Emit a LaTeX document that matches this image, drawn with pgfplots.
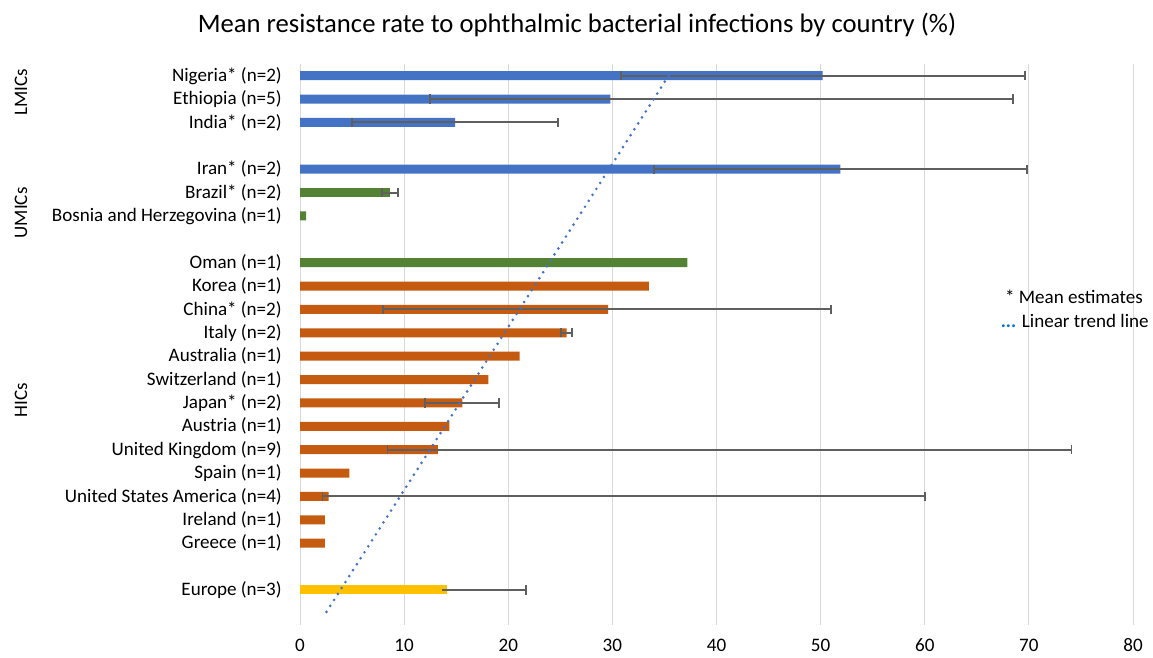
\documentclass[border=0pt]{standalone}
\usepackage{fontspec}
\setmainfont{Carlito}
\usepackage{pgfplots}
\pgfplotsset{compat=1.18}
\definecolor{cblue}{HTML}{4472C4}
\definecolor{cgreen}{HTML}{548235}
\definecolor{corange}{HTML}{C55A11}
\definecolor{cyellow}{HTML}{FFC000}
\definecolor{errgray}{HTML}{5F5F5F}
\definecolor{gridgray}{HTML}{D9D9D9}
\definecolor{legblue}{HTML}{0070C0}
\newcommand{\lbl}{\fontsize{14.3}{16}\selectfont}
\pgfplotsset{
  eb/.style={line width=1.5pt, error bars/.cd, x dir=both, x explicit,
    error bar style={draw=errgray, line width=1.5pt, solid},
    error mark options={draw=errgray, line width=1.3pt, mark size=3.5pt, rotate=90}},
}
\begin{document}
\begin{tikzpicture}
\useasboundingbox (0,0) rectangle (864.75pt,492.75pt);
\begin{axis}[
  at={(225pt,24pt)}, anchor=south west,
  scale only axis, width=624.75pt, height=420.75pt,
  xmin=0, xmax=80, ymin=-0.5, ymax=23.5, y dir=reverse,
  xtick={0,10,20,30,40,50,60,70,80},
  ytick={0,1,2,4,5,6,8,9,10,11,12,13,14,15,16,17,18,19,20,22},
  yticklabels={Nigeria* (n=2),Ethiopia (n=5),India* (n=2),Iran* (n=2),Brazil* (n=2),Bosnia and Herzegovina (n=1),Oman (n=1),Korea (n=1),China* (n=2),Italy (n=2),Australia (n=1),Switzerland (n=1),Japan* (n=2),Austria (n=1),United Kingdom (n=9),Spain (n=1),United States America (n=4),Ireland (n=1),Greece (n=1),Europe (n=3)},
  xmajorgrids, grid style={draw=gridgray, line width=0.75pt},
  axis line style={draw=none}, major tick length=0pt, tick style={draw=none},
  tick label style={font=\lbl, text=black},
  yticklabel style={anchor=east, inner sep=0pt, xshift=-13.5pt},
  xticklabel style={anchor=base, inner sep=0pt, yshift=-20pt},
  /pgf/number format/assume math mode=true,
  bar width=0.385, clip=false,
]
% bars without error bars
\addplot[xbar, bar shift=0pt, fill=cgreen, draw=none] coordinates {(0.6,6) (37.2,8)};
\addplot[xbar, bar shift=0pt, fill=corange, draw=none] coordinates {(33.5,9) (21.1,12) (18.1,13) (14.35,15) (4.75,17) (2.4,19) (2.4,20)};
% bars with error bars
\addplot[xbar, bar shift=0pt, fill=cblue, draw=none, eb] coordinates {
  (50.2,0) += (19.4,0) -= (19.4,0)
  (29.8,1) += (38.7,0) -= (17.3,0)
  (14.9,2) += (9.9,0) -= (9.9,0)
  (51.9,4) += (17.9,0) -= (17.9,0)};
\addplot[xbar, bar shift=0pt, fill=cgreen, draw=none, eb] coordinates {
  (8.65,5) += (0.75,0) -= (0.75,0)};
\addplot[xbar, bar shift=0pt, fill=corange, draw=none, eb] coordinates {
  (29.6,10) += (21.4,0) -= (21.6,0)
  (25.6,11) += (0.5,0) -= (0.5,0)
  (15.6,14) += (3.5,0) -= (3.6,0)
  (13.25,16) += (60.85,0) -= (4.85,0)
  (2.75,18) += (57.25,0) -= (0.6,0)};
\addplot[xbar, bar shift=0pt, fill=cyellow, draw=none, eb] coordinates {
  (14.1,22) += (7.6,0) -= (0,0)};
\addplot[cblue, line width=2.2pt, dash pattern=on 0pt off 5.3pt, line cap=round] coordinates {(35.4,0) (2.45,23)};
\end{axis}
\node[font=\fontsize{20}{24}\selectfont] at (432.75pt,474pt) {Mean resistance rate to ophthalmic bacterial infections by country (\%)};
\node[rotate=90, font=\lbl] at (15.75pt,423.75pt) {LMICs};
\node[rotate=90, font=\lbl] at (15.75pt,333pt) {UMICs};
\node[rotate=90, font=\lbl] at (15.75pt,192.75pt) {HICs};
\node[anchor=east, inner sep=0pt, font=\lbl] at (857.25pt,270pt) {* Mean estimates};
\node[anchor=east, inner sep=0pt, font=\lbl] at (861.75pt,252pt) {\textcolor{legblue}{\textbf{...}} Linear trend line};
\end{tikzpicture}
\end{document}
